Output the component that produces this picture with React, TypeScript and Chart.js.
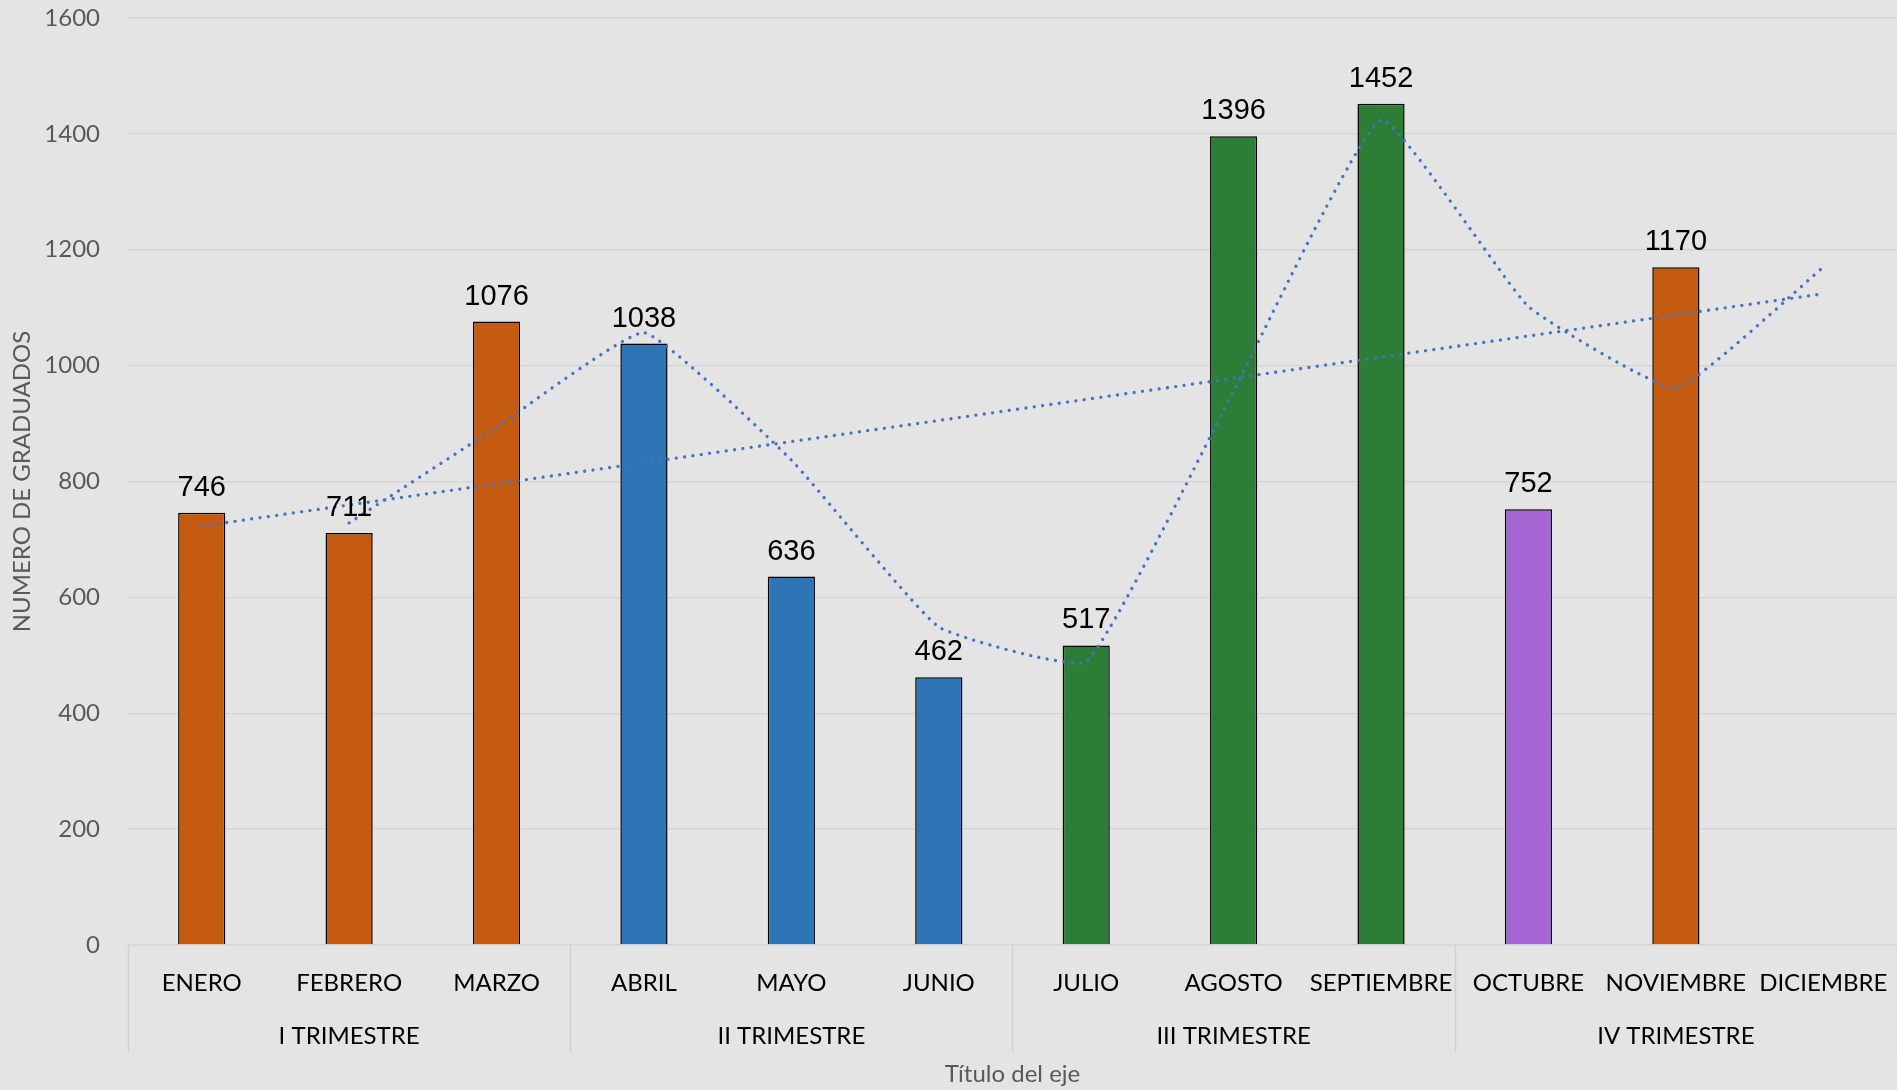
import React, { useEffect, useRef } from "react";
import { Chart, registerables } from "chart.js";

Chart.register(...registerables);

const months = ["ENERO", "FEBRERO", "MARZO", "ABRIL", "MAYO", "JUNIO", "JULIO", "AGOSTO", "SEPTIEMBRE", "OCTUBRE", "NOVIEMBRE", "DICIEMBRE"];
const quarters = ["I TRIMESTRE", "II TRIMESTRE", "III TRIMESTRE", "IV TRIMESTRE"];
const graduados: (number | null)[] = [746, 711, 1076, 1038, 636, 462, 517, 1396, 1452, 752, 1170, null];
const barColors = ["#C55A11", "#C55A11", "#C55A11", "#2E75B6", "#2E75B6", "#2E75B6", "#2E7D37", "#2E7D37", "#2E7D37", "#A566D3", "#C55A11", "#C55A11"];
const movingAvg: (number | null)[] = [null, 728.5, 893.5, 1057, 837, 549, 489.5, 956.5, 1424, 1102, 961, 1170];
const trend: (number | null)[] = [723, null, null, null, null, null, null, null, null, null, null, 1124];
const yTicks = [0, 200, 400, 600, 800, 1000, 1200, 1400, 1600];
const yTitle = "NUMERO DE GRADUADOS";
const xTitle = "Título del eje";

const BG = "#e4e4e4";
const LINE = "#4472C4";

const overlayPlugin = {
  id: "overlay",
  beforeDraw(chart: any) {
    const { ctx, width, height } = chart;
    ctx.save();
    ctx.fillStyle = BG;
    ctx.fillRect(0, 0, width, height);
    ctx.restore();
  },
  afterDraw(chart: any) {
    const { ctx, chartArea } = chart;
    const xs = chart.scales.x;
    ctx.save();
    const step = xs.getPixelForValue(1) - xs.getPixelForValue(0);
    ctx.strokeStyle = "#d0d0d0";
    ctx.lineWidth = 1.5;
    for (let g = 0; g <= quarters.length; g++) {
      const x = Math.round(xs.getPixelForValue(g * 3) - step / 2) + 0.5;
      ctx.beginPath();
      ctx.moveTo(x, chartArea.bottom);
      ctx.lineTo(x, 1052);
      ctx.stroke();
    }
    ctx.fillStyle = "#000000";
    ctx.font = "24px Lato";
    ctx.textAlign = "center";
    ctx.textBaseline = "middle";
    quarters.forEach((q, g) => {
      const x = xs.getPixelForValue(g * 3 + 1);
      ctx.fillText(q, x, 1036);
    });
    ctx.fillStyle = "#595959";
    ctx.font = "24px Lato";
    ctx.fillText(xTitle, (chartArea.left + chartArea.right) / 2, 1074);
    ctx.save();
    ctx.translate(22, (chartArea.top + chartArea.bottom) / 2);
    ctx.rotate(-Math.PI / 2);
    ctx.fillText(yTitle, 0, 0);
    ctx.restore();
    const meta = chart.getDatasetMeta(0);
    ctx.fillStyle = "#000000";
    ctx.font = "29px 'Liberation Sans'";
    ctx.textBaseline = "alphabetic";
    meta.data.forEach((el: any, i: number) => {
      const v = graduados[i];
      if (v === null) return;
      ctx.fillText(String(v), el.x, el.y - 17);
    });
    ctx.restore();
  },
};

export default function App() {
  const ref = useRef<HTMLCanvasElement | null>(null);
  useEffect(() => {
    if (!ref.current) return;
    const chart = new Chart(ref.current, {
      type: "bar",
      data: {
        labels: months,
        datasets: [
          {
            type: "bar",
            data: graduados,
            backgroundColor: barColors,
            borderColor: "#000000",
            borderWidth: 1.5,
            barPercentage: 0.32,
            categoryPercentage: 1,
            order: 2,
          } as any,
          {
            type: "line",
            data: movingAvg,
            borderColor: LINE,
            borderWidth: 3.3,
            borderDash: [0.01, 8.4],
            borderCapStyle: "round",
            pointRadius: 0,
            tension: 0.12,
            fill: false,
            order: 1,
          } as any,
          {
            type: "line",
            data: trend,
            borderColor: LINE,
            borderWidth: 3.3,
            borderDash: [0.01, 8.4],
            borderCapStyle: "round",
            pointRadius: 0,
            spanGaps: true,
            fill: false,
            order: 1,
          } as any,
        ],
      },
      options: {
        animation: false,
        responsive: true,
        maintainAspectRatio: false,
        layout: { padding: { top: 18, left: 0, right: 0, bottom: 0 } },
        plugins: { legend: { display: false }, tooltip: { enabled: false } },
        scales: {
          x: {
            grid: { display: false },
            border: { display: false },
            ticks: {
              autoSkip: false,
              maxRotation: 0,
              minRotation: 0,
              padding: 16,
              color: "#000000",
              font: { family: "Lato", size: 24 },
            },
            afterFit: (s: any) => {
              s.height = 145;
              s.paddingLeft = 0;
              s.paddingRight = 0;
            },
          },
          y: {
            min: 0,
            max: 1600,
            afterBuildTicks: (s: any) => {
              s.ticks = yTicks.map((v) => ({ value: v }));
            },
            grid: { color: "#d5d5d5", lineWidth: 1.5, drawTicks: false },
            border: { display: false },
            ticks: {
              padding: 28,
              color: "#595959",
              font: { family: "Lato", size: 24 },
              callback: (v: any) => String(v),
            },
            afterFit: (s: any) => {
              s.width = 128;
              s.paddingTop = 0;
              s.paddingBottom = 0;
            },
          },
        },
      },
      plugins: [overlayPlugin],
    });
    return () => chart.destroy();
  }, []);
  return (
    <div style={{ position: "fixed", left: 0, top: 0, width: "100vw", height: "100vh", background: BG }}>
      <canvas ref={ref} />
    </div>
  );
}
